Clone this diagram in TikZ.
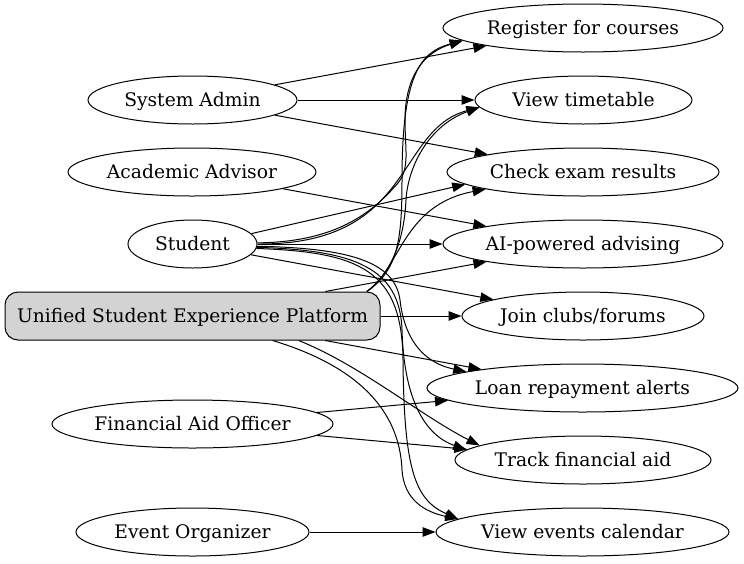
\documentclass[tikz,border=0pt]{standalone}
\usepackage{fontspec}
\setmainfont{DejaVu Serif}
\usetikzlibrary{arrows.meta,shapes.geometric}
\definecolor{boxgray}{HTML}{D3D3D3}
\begin{document}
\begin{tikzpicture}[x=1pt,y=-1pt,
  actor/.style={ellipse,draw,line width=1pt,inner sep=0pt,minimum height=48pt,
    text height=13.6pt,text depth=0pt,font=\fontsize{18.7}{22}\selectfont},
  platbox/.style={rectangle,rounded corners=13pt,draw,line width=1pt,fill=boxgray,
    inner sep=0pt,minimum width=375pt,minimum height=48pt,
    text height=13.6pt,text depth=0pt,font=\fontsize{18.7}{22}\selectfont},
  edge/.style={line width=1pt,-{Triangle[length=13pt,width=9.5pt]}}]
\useasboundingbox (0,0) rectangle (744,563);
% left column
\node[actor,minimum width=209pt] (sa)  at (192.5,100) {System Admin};
\node[actor,minimum width=248pt] (adv) at (192,172) {Academic Advisor};
\node[actor,minimum width=129pt] (stu) at (192.5,244) {Student};
\node[platbox] (plat) at (192.5,316) {Unified Student Experience Platform};
\node[actor,minimum width=281pt] (fin) at (192.5,424) {Financial Aid Officer};
\node[actor,minimum width=233pt] (eo)  at (192.5,532) {Event Organizer};
% right column
\node[actor,minimum width=280pt] (reg)    at (583,28)  {Register for courses};
\node[actor,minimum width=217pt] (tt)     at (583.5,100) {View timetable};
\node[actor,minimum width=272pt] (check)  at (583,172) {Check exam results};
\node[actor,minimum width=280pt] (ai)     at (583,244) {AI-powered advising};
\node[actor,minimum width=242pt] (join)   at (583,316) {Join clubs/forums};
\node[actor,minimum width=311pt] (loan)   at (582.5,388) {Loan repayment alerts};
\node[actor,minimum width=256pt] (track)  at (583,460) {Track financial aid};
\node[actor,minimum width=293pt] (events) at (582.5,532) {View events calendar};
% straight edges
\draw[edge] (sa) -- (reg);
\draw[edge] (sa) -- (tt);
\draw[edge] (sa) -- (check);
\draw[edge] (adv) -- (ai);
\draw[edge] (stu.10) -- (check.186);
\draw[edge] (stu) -- (ai);
\draw[edge] (stu) -- (join);
\draw[edge] (plat) -- (ai);
\draw[edge] (plat) -- (join);
\draw[edge] (plat) -- (loan);
\draw[edge] (fin) -- (loan);
\draw[edge] (fin) -- (track);
\draw[edge] (eo) -- (events);
% curved edges from Student (upwards)
\draw[edge] (stu.east) .. controls (415,245) and (395,130) .. (tt.184);
\draw[edge] (stu.1) .. controls (336,242) and (372,213) .. (398,183)
  .. controls (410,168) and (405,150) .. (405,120)
  .. controls (405,75) and (425,52) .. (reg.186);
% curved edges from Platform (upwards)
\draw[edge] (plat.8) .. controls (398,270) and (402,240) .. (402,180)
  .. controls (402,75) and (420,52) .. (reg.186);
\draw[edge] (plat.8) .. controls (392,272) and (404,240) .. (406,200)
  .. controls (408,165) and (430,125) .. (tt.184);
\draw[edge] (plat.8) .. controls (400,270) and (402,205) .. (check.190);
% curved edges from Student (downwards)
\draw[edge] (stu.-2) .. controls (350,248) and (395,262) .. (400,300)
  .. controls (404,335) and (420,362) .. (loan.172);
\draw[edge] (stu.-3) .. controls (355,250) and (400,268) .. (402,330)
  .. controls (404,400) and (425,435) .. (track.175);
\draw[edge] (stu.-4) .. controls (360,252) and (402,270) .. (403,360)
  .. controls (404,470) and (415,500) .. (events.174);
% curved edges from Platform (downwards)
\draw[edge] (plat.-13) .. controls (360,365) and (420,415) .. (track.172);
\draw[edge] (plat.-17.5) .. controls (370,370) and (400,420) .. (402,470)
  .. controls (404,500) and (425,512) .. (events.174);
\end{tikzpicture}
\end{document}
